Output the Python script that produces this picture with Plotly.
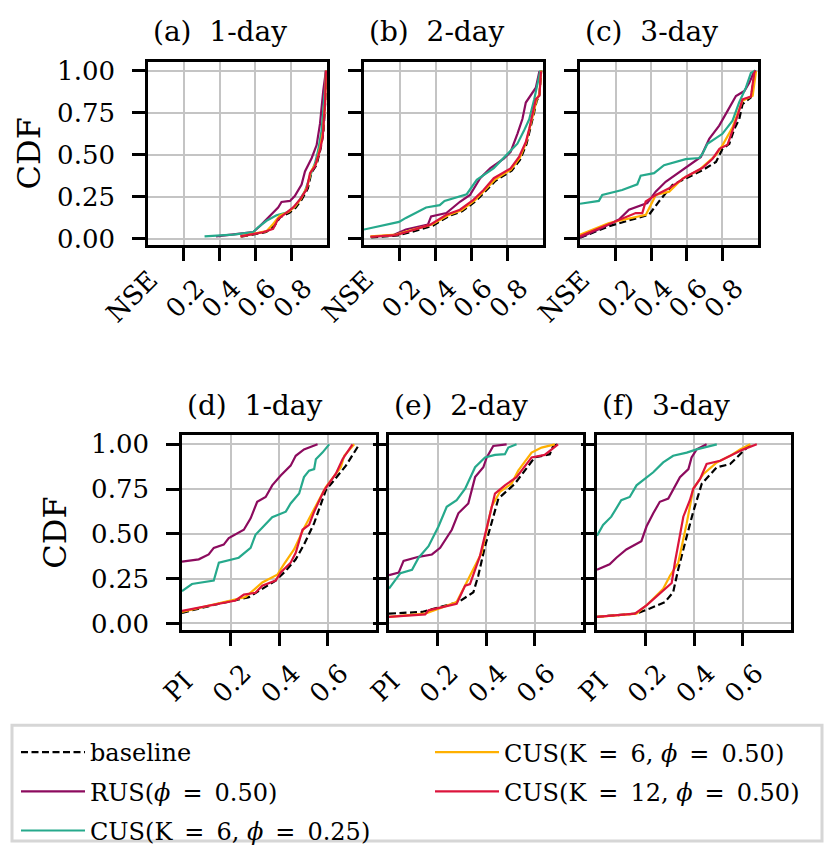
import plotly.graph_objects as go

# ---- values: (score, CDF) points of each curve ----
# top row: NSE, bottom row: PI ; a/d = 1-day, b/e = 2-day, c/f = 3-day
a_base = [(0.52, 0.012), (0.66, 0.04), (0.705, 0.075), (0.74, 0.13), (0.79, 0.155), (0.825, 0.185), (0.86, 0.235), (0.893, 0.3), (0.912, 0.39), (0.942, 0.44), (0.965, 0.54), (0.98, 0.63), (0.99, 0.81), (0.995, 1.0)]
a_rus = [(0.38, 0.014), (0.587, 0.039), (0.624, 0.074), (0.68, 0.137), (0.727, 0.186), (0.746, 0.219), (0.793, 0.225), (0.82, 0.254), (0.858, 0.322), (0.877, 0.4), (0.914, 0.479), (0.942, 0.557), (0.961, 0.684), (0.979, 0.879), (0.994, 1.0)]
a_cus6_25 = [(0.316, 0.014), (0.475, 0.025), (0.587, 0.039), (0.615, 0.068), (0.662, 0.107), (0.718, 0.14), (0.774, 0.156), (0.82, 0.19), (0.849, 0.234), (0.877, 0.283), (0.905, 0.371), (0.933, 0.449), (0.951, 0.527), (0.97, 0.645), (0.989, 0.9), (0.994, 1.0)]
a_cus6_50 = [(0.516, 0.014), (0.662, 0.045), (0.699, 0.088), (0.736, 0.137), (0.786, 0.16), (0.82, 0.19), (0.856, 0.24), (0.89, 0.31), (0.91, 0.4), (0.94, 0.45), (0.963, 0.55), (0.978, 0.64), (0.99, 0.82), (0.995, 1.0)]
a_cus12_50 = [(0.516, 0.014), (0.643, 0.039), (0.699, 0.059), (0.727, 0.117), (0.774, 0.156), (0.811, 0.186), (0.849, 0.234), (0.886, 0.293), (0.905, 0.39), (0.933, 0.43), (0.961, 0.527), (0.976, 0.605), (0.989, 0.801), (0.994, 1.0)]

b_base = [(0.04, 0.008), (0.19, 0.02), (0.27, 0.042), (0.385, 0.078), (0.475, 0.135), (0.55, 0.165), (0.625, 0.225), (0.68, 0.285), (0.735, 0.345), (0.825, 0.405), (0.872, 0.47), (0.907, 0.56), (0.927, 0.64), (0.946, 0.73), (0.965, 0.82), (0.98, 0.855), (0.99, 1.0)]
b_rus = [(0.036, 0.012), (0.158, 0.02), (0.234, 0.055), (0.357, 0.084), (0.375, 0.133), (0.46, 0.153), (0.536, 0.22), (0.592, 0.26), (0.649, 0.36), (0.706, 0.42), (0.781, 0.476), (0.819, 0.516), (0.857, 0.624), (0.885, 0.712), (0.904, 0.81), (0.942, 0.868), (0.96, 0.898), (0.98, 0.996)]
b_cus6_25 = [(0.0, 0.055), (0.083, 0.075), (0.196, 0.10), (0.234, 0.124), (0.29, 0.157), (0.347, 0.186), (0.423, 0.20), (0.45, 0.225), (0.574, 0.265), (0.63, 0.35), (0.725, 0.42), (0.8, 0.505), (0.857, 0.565), (0.894, 0.643), (0.923, 0.71), (0.951, 0.83), (0.98, 0.986), (0.985, 1.0)]
b_cus6_50 = [(0.036, 0.014), (0.18, 0.025), (0.26, 0.05), (0.38, 0.085), (0.47, 0.14), (0.545, 0.17), (0.62, 0.23), (0.675, 0.29), (0.73, 0.35), (0.82, 0.41), (0.87, 0.48), (0.905, 0.57), (0.925, 0.65), (0.945, 0.74), (0.965, 0.83), (0.98, 0.86), (0.99, 1.0)]
b_cus12_50 = [(0.036, 0.012), (0.177, 0.022), (0.253, 0.045), (0.37, 0.084), (0.46, 0.143), (0.536, 0.173), (0.611, 0.231), (0.668, 0.29), (0.725, 0.36), (0.819, 0.418), (0.866, 0.486), (0.904, 0.575), (0.923, 0.653), (0.942, 0.741), (0.96, 0.83), (0.98, 0.85), (0.989, 0.996)]

c_base = [(0.0, 0.006), (0.163, 0.075), (0.388, 0.143), (0.444, 0.222), (0.52, 0.32), (0.595, 0.359), (0.689, 0.408), (0.764, 0.457), (0.801, 0.535), (0.839, 0.565), (0.867, 0.653), (0.895, 0.712), (0.913, 0.8), (0.96, 0.84), (0.985, 1.0)]
c_rus = [(0.0, 0.008), (0.125, 0.065), (0.219, 0.114), (0.275, 0.173), (0.378, 0.212), (0.425, 0.28), (0.481, 0.339), (0.538, 0.382), (0.613, 0.437), (0.679, 0.486), (0.726, 0.594), (0.782, 0.673), (0.829, 0.76), (0.876, 0.849), (0.923, 0.878), (0.951, 0.927), (0.979, 0.996)]
c_cus6_25 = [(0.0, 0.208), (0.106, 0.225), (0.125, 0.26), (0.237, 0.29), (0.322, 0.324), (0.341, 0.375), (0.416, 0.39), (0.472, 0.437), (0.594, 0.473), (0.67, 0.48), (0.688, 0.506), (0.716, 0.565), (0.8, 0.624), (0.857, 0.702), (0.894, 0.81), (0.932, 0.898), (0.96, 0.986), (0.985, 1.0)]
c_cus6_50 = [(0.0, 0.025), (0.163, 0.094), (0.37, 0.143), (0.426, 0.26), (0.501, 0.28), (0.576, 0.358), (0.67, 0.41), (0.764, 0.498), (0.801, 0.557), (0.857, 0.663), (0.895, 0.77), (0.913, 0.82), (0.97, 0.85), (0.989, 0.996)]
c_cus12_50 = [(0.0, 0.016), (0.088, 0.055), (0.182, 0.094), (0.313, 0.153), (0.35, 0.153), (0.369, 0.222), (0.426, 0.26), (0.501, 0.3), (0.595, 0.369), (0.689, 0.422), (0.745, 0.476), (0.783, 0.535), (0.829, 0.559), (0.857, 0.643), (0.885, 0.731), (0.913, 0.829), (0.96, 0.845), (0.979, 0.986), (0.985, 1.0)]

d_base = [(0.0, 0.059), (0.124, 0.101), (0.276, 0.147), (0.386, 0.239), (0.428, 0.294), (0.469, 0.358), (0.503, 0.44), (0.545, 0.56), (0.593, 0.743), (0.676, 0.881), (0.731, 1.0)]
d_rus = [(0.0, 0.345), (0.069, 0.358), (0.11, 0.385), (0.131, 0.422), (0.172, 0.44), (0.193, 0.477), (0.255, 0.523), (0.283, 0.587), (0.31, 0.679), (0.345, 0.706), (0.372, 0.771), (0.407, 0.826), (0.448, 0.881), (0.469, 0.936), (0.503, 0.972), (0.559, 1.0)]
d_cus6_25 = [(0.0, 0.18), (0.041, 0.22), (0.131, 0.239), (0.152, 0.339), (0.234, 0.367), (0.283, 0.422), (0.303, 0.495), (0.372, 0.593), (0.428, 0.624), (0.448, 0.67), (0.483, 0.725), (0.503, 0.817), (0.524, 0.853), (0.545, 0.862), (0.552, 0.917), (0.579, 0.954), (0.607, 1.0)]
d_cus6_50 = [(0.0, 0.064), (0.1, 0.095), (0.2, 0.125), (0.262, 0.147), (0.331, 0.229), (0.393, 0.272), (0.42, 0.33), (0.462, 0.413), (0.503, 0.532), (0.593, 0.761), (0.655, 0.872), (0.669, 0.936), (0.71, 1.0)]
d_cus12_50 = [(0.0, 0.07), (0.097, 0.097), (0.221, 0.128), (0.255, 0.161), (0.303, 0.171), (0.331, 0.211), (0.386, 0.239), (0.407, 0.284), (0.448, 0.339), (0.469, 0.394), (0.497, 0.523), (0.524, 0.55), (0.545, 0.624), (0.586, 0.743), (0.634, 0.835), (0.662, 0.917), (0.703, 1.0)]

e_base = [(0.0, 0.055), (0.136, 0.064), (0.286, 0.119), (0.348, 0.174), (0.368, 0.266), (0.396, 0.431), (0.451, 0.697), (0.519, 0.78), (0.601, 0.927), (0.663, 0.945), (0.677, 0.991), (0.697, 1.0)]
e_rus = [(0.0, 0.27), (0.04, 0.284), (0.06, 0.349), (0.122, 0.372), (0.177, 0.385), (0.211, 0.422), (0.259, 0.523), (0.286, 0.615), (0.327, 0.67), (0.355, 0.817), (0.389, 0.872), (0.403, 0.927), (0.43, 0.991), (0.485, 1.0)]
e_cus6_25 = [(0.0, 0.195), (0.026, 0.239), (0.047, 0.281), (0.095, 0.299), (0.122, 0.367), (0.163, 0.431), (0.204, 0.541), (0.238, 0.651), (0.279, 0.688), (0.314, 0.752), (0.355, 0.872), (0.396, 0.927), (0.437, 0.941), (0.478, 0.945), (0.492, 0.982), (0.526, 1.0)]
e_cus6_50 = [(0.0, 0.037), (0.149, 0.055), (0.279, 0.119), (0.334, 0.266), (0.382, 0.394), (0.423, 0.651), (0.457, 0.734), (0.505, 0.78), (0.533, 0.853), (0.588, 0.954), (0.629, 0.982), (0.684, 1.0)]
e_cus12_50 = [(0.0, 0.037), (0.149, 0.05), (0.163, 0.073), (0.279, 0.11), (0.314, 0.211), (0.334, 0.22), (0.375, 0.376), (0.396, 0.495), (0.437, 0.725), (0.478, 0.771), (0.526, 0.817), (0.588, 0.927), (0.642, 0.941), (0.697, 1.0)]

f_base = [(0.0, 0.037), (0.163, 0.055), (0.218, 0.083), (0.28, 0.119), (0.314, 0.174), (0.335, 0.303), (0.37, 0.486), (0.397, 0.624), (0.432, 0.78), (0.494, 0.872), (0.549, 0.89), (0.59, 0.945), (0.632, 1.0)]
f_rus = [(0.0, 0.3), (0.052, 0.33), (0.08, 0.367), (0.121, 0.413), (0.183, 0.459), (0.204, 0.541), (0.232, 0.615), (0.259, 0.679), (0.294, 0.697), (0.321, 0.761), (0.342, 0.817), (0.377, 0.862), (0.39, 0.927), (0.411, 0.972), (0.452, 1.0)]
f_cus6_25 = [(0.0, 0.49), (0.025, 0.55), (0.059, 0.596), (0.1, 0.688), (0.135, 0.706), (0.163, 0.771), (0.197, 0.807), (0.232, 0.844), (0.273, 0.899), (0.314, 0.936), (0.37, 0.954), (0.411, 0.972), (0.494, 1.0)]
f_cus6_50 = [(0.0, 0.037), (0.163, 0.055), (0.211, 0.11), (0.273, 0.193), (0.301, 0.266), (0.335, 0.339), (0.37, 0.56), (0.397, 0.752), (0.439, 0.835), (0.494, 0.899), (0.549, 0.936), (0.59, 0.972), (0.632, 1.0)]
f_cus12_50 = [(0.0, 0.037), (0.156, 0.055), (0.204, 0.101), (0.266, 0.174), (0.308, 0.226), (0.321, 0.339), (0.356, 0.596), (0.383, 0.688), (0.397, 0.752), (0.425, 0.807), (0.452, 0.89), (0.508, 0.908), (0.563, 0.945), (0.604, 0.972), (0.659, 1.0)]

panel_titles = ['(a)  1-day', '(b)  2-day', '(c)  3-day', '(d)  1-day', '(e)  2-day', '(f)  3-day']
panel_data = [
    [a_base, a_rus, a_cus6_25, a_cus6_50, a_cus12_50],
    [b_base, b_rus, b_cus6_25, b_cus6_50, b_cus12_50],
    [c_base, c_rus, c_cus6_25, c_cus6_50, c_cus12_50],
    [d_base, d_rus, d_cus6_25, d_cus6_50, d_cus12_50],
    [e_base, e_rus, e_cus6_25, e_cus6_50, e_cus12_50],
    [f_base, f_rus, f_cus6_25, f_cus6_50, f_cus12_50],
]
EQ = '\u2002=\u2002'
series_names = ['baseline', 'RUS(<i>ϕ</i>' + EQ + '0.50)', 'CUS(K' + EQ + '6, <i>ϕ</i>' + EQ + '0.25)',
                'CUS(K' + EQ + '6, <i>ϕ</i>' + EQ + '0.50)', 'CUS(K' + EQ + '12, <i>ϕ</i>' + EQ + '0.50)']
series_colors = ['black', '#8c0b5e', '#26a98c', '#ffb000', '#dc143c']
series_dash = ['7px,3.5px', 'solid', 'solid', 'solid', 'solid']
series_legend = ['legend', 'legend', 'legend', 'legend2', 'legend2']

y_ticks = [0, 0.25, 0.5, 0.75, 1.0]
y_ticktext = ['0.00', '0.25', '0.50', '0.75', '1.00']
nse_ticks = [0.2, 0.4, 0.6, 0.8]
pi_ticks = [0.2, 0.4, 0.6]

# the page body keeps its default 8px margin, so the figure is a bit
# smaller than the window and all pixel positions are shifted by it
OFF = 8
W, H = 834 - 2 * OFF, 861 - 2 * OFF
FONT = 'DejaVu Serif'


def px(p):
    return (p - OFF) / W


def py(p):
    return 1 - (p - OFF) / H


# pixel boxes of the six panels in the window (left, right, top, bottom)
boxes = [(148, 327, 57, 243), (364, 543, 57, 243), (580, 758, 57, 243),
         (182, 376, 437, 635), (389, 583, 437, 635), (597, 791, 437, 635)]

fig = go.Figure()

for p, curves in enumerate(panel_data):
    ax = '' if p == 0 else str(p + 1)
    for s, pts in enumerate(curves):
        fig.add_trace(go.Scatter(
            x=[v[0] for v in pts], y=[v[1] for v in pts],
            mode='lines', name=series_names[s],
            line=dict(color=series_colors[s], width=2.2, dash=series_dash[s]),
            legendgroup=series_names[s], legend=series_legend[s],
            showlegend=(p == 0),
            xaxis='x' + ax, yaxis='y' + ax,
        ))

axis_common = dict(
    showline=True, mirror=True, linecolor='black', linewidth=2.6,
    showgrid=True, gridcolor='#c4c4c4', gridwidth=2,
    ticks='outside', ticklen=13, tickwidth=2.6, tickcolor='black',
    zeroline=False, tickfont=dict(family=FONT, size=26, color='black'),
)

layout = {}
annotations = []
for p, (l, r, t, b) in enumerate(boxes):
    ax = '' if p == 0 else str(p + 1)
    top_row = p < 3
    layout['xaxis' + ax] = dict(
        axis_common, domain=[px(l), px(r)], anchor='y' + ax,
        range=[0, 1.0] if top_row else [0, 0.8],
        tickvals=nse_ticks if top_row else pi_ticks,
        ticktext=['%.1f' % v for v in (nse_ticks if top_row else pi_ticks)],
        tickangle=-45, ticklabelshift=13, ticklabelstandoff=2,
    )
    layout['yaxis' + ax] = dict(
        axis_common, domain=[py(b), py(t)], anchor='x' + ax,
        range=[-0.036, 1.05], tickvals=y_ticks, ticktext=y_ticktext,
        showticklabels=(p in (0, 3)), ticklabelstandoff=12,
    )
    if p in (0, 3):
        annotations.append(dict(
            text='CDF', xref='paper', yref='paper',
            x=px(29 if top_row else 55), y=py((t + b) / 2), xanchor='center', yanchor='middle',
            textangle=-90, showarrow=False, font=dict(family=FONT, size=32, color='black'),
        ))
    annotations.append(dict(
        text=panel_titles[p], xref='paper', yref='paper',
        x=px(l + 3), y=py(t - (31 if top_row else 30)), xanchor='left', yanchor='middle',
        showarrow=False, font=dict(family=FONT, size=28, color='black'),
    ))
    annotations.append(dict(
        text='NSE' if top_row else 'PI', xref='paper', yref='paper',
        x=px(l + 19), y=py(b + (17 if top_row else 34)), xanchor='right', yanchor='top',
        textangle=-45, showarrow=False, font=dict(family=FONT, size=26, color='black'),
    ))

legend_common = dict(
    orientation='v', yanchor='top', bgcolor='rgba(0,0,0,0)', borderwidth=0,
    font=dict(family=FONT, size=24, color='black'), traceorder='grouped',
    tracegroupgap=5, itemwidth=64,
)

fig.update_layout(
    width=W, height=H, margin=dict(l=0, r=0, t=0, b=0),
    paper_bgcolor='white', plot_bgcolor='white',
    annotations=annotations,
    legend=dict(legend_common, x=px(16), y=py(737)),
    legend2=dict(legend_common, x=px(430), y=py(737)),
    shapes=[dict(type='rect', xref='paper', yref='paper', x0=px(12), x1=px(822),
                 y0=py(850), y1=py(732), line=dict(color='#d6d6d6', width=3),
                 fillcolor='white', layer='below')],
    **layout,
)

fig.write_html('out.html')
